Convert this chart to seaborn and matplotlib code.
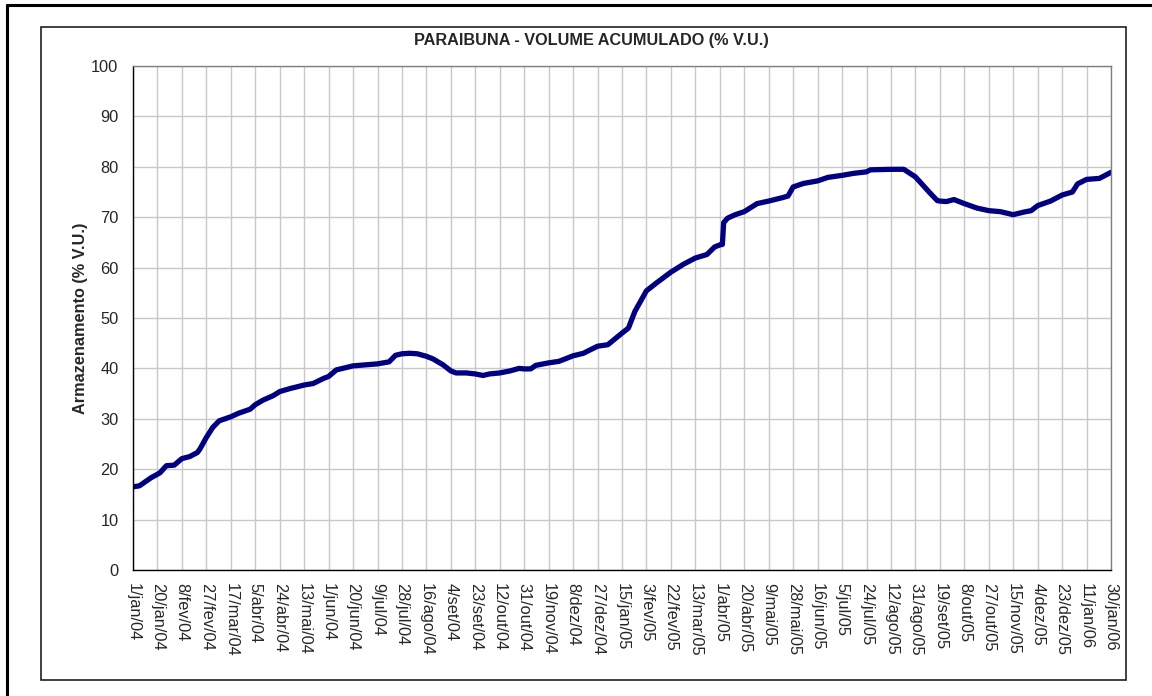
import pandas as pd
import numpy as np
import matplotlib
matplotlib.use('Agg')
import matplotlib.pyplot as plt
from matplotlib.lines import Line2D
from matplotlib.patches import Rectangle
import seaborn as sns

# dados: volume acumulado de Paraibuna (% V.U.)
datas = [
    '2004-01-01', '2004-01-06', '2004-01-15', '2004-01-20', '2004-01-22', '2004-01-27',
    '2004-02-02', '2004-02-08', '2004-02-14', '2004-02-20', '2004-02-22', '2004-02-27',
    '2004-03-03', '2004-03-08', '2004-03-17', '2004-03-23', '2004-04-01', '2004-04-05',
    '2004-04-11', '2004-04-19', '2004-04-24', '2004-05-02', '2004-05-13', '2004-05-20',
    '2004-05-28', '2004-06-01', '2004-06-07', '2004-06-20', '2004-07-09', '2004-07-18',
    '2004-07-23', '2004-07-28', '2004-08-03', '2004-08-09', '2004-08-16', '2004-08-21',
    '2004-08-29', '2004-09-04', '2004-09-08', '2004-09-16', '2004-09-23', '2004-09-29',
    '2004-10-04', '2004-10-12', '2004-10-20', '2004-10-27', '2004-10-31', '2004-11-05',
    '2004-11-09', '2004-11-19', '2004-11-27', '2004-12-08', '2004-12-16', '2004-12-27',
    '2005-01-04', '2005-01-15', '2005-01-20', '2005-01-25', '2005-02-03', '2005-02-11',
    '2005-02-22', '2005-03-04', '2005-03-13', '2005-03-22', '2005-03-28', '2005-04-01',
    '2005-04-03', '2005-04-04', '2005-04-07', '2005-04-13', '2005-04-20', '2005-04-30',
    '2005-05-09', '2005-05-20', '2005-05-24', '2005-05-28', '2005-06-05', '2005-06-16',
    '2005-06-24', '2005-07-05', '2005-07-14', '2005-07-24', '2005-07-27', '2005-08-12',
    '2005-08-22', '2005-08-31', '2005-09-11', '2005-09-17', '2005-09-19', '2005-09-24',
    '2005-09-30', '2005-10-08', '2005-10-18', '2005-10-27', '2005-11-05', '2005-11-15',
    '2005-11-23', '2005-11-29', '2005-12-04', '2005-12-14', '2005-12-23', '2005-12-31',
    '2006-01-04', '2006-01-11', '2006-01-21', '2006-01-30',
]
volume = [
    16.5, 16.7, 18.3, 19.0, 19.3, 20.7,
    20.8, 22.1, 22.5, 23.3, 24.0, 26.3,
    28.3, 29.6, 30.4, 31.1, 31.9, 32.8,
    33.7, 34.6, 35.4, 36.0, 36.7, 37.0,
    38.0, 38.4, 39.7, 40.5, 40.9, 41.3,
    42.6, 42.9, 43.0, 42.9, 42.4, 41.9,
    40.7, 39.5, 39.1, 39.1, 38.9, 38.6,
    38.9, 39.1, 39.5, 40.0, 39.9, 39.9,
    40.6, 41.1, 41.4, 42.5, 43.0, 44.4,
    44.7, 47.0, 48.0, 51.3, 55.4, 57.0,
    59.1, 60.7, 61.9, 62.6, 64.1, 64.5,
    64.6, 68.9, 69.8, 70.5, 71.1, 72.7,
    73.2, 73.9, 74.2, 76.0, 76.7, 77.2,
    77.9, 78.3, 78.7, 79.0, 79.4, 79.5,
    79.5, 78.0, 74.9, 73.3, 73.2, 73.1,
    73.5, 72.7, 71.8, 71.3, 71.1, 70.5,
    71.0, 71.3, 72.3, 73.2, 74.4, 75.0,
    76.6, 77.5, 77.7, 78.9,
]

rotulos_x = [
    '1/jan/04', '20/jan/04', '8/fev/04', '27/fev/04', '17/mar/04', '5/abr/04',
    '24/abr/04', '13/mai/04', '1/jun/04', '20/jun/04', '9/jul/04', '28/jul/04',
    '16/ago/04', '4/set/04', '23/set/04', '12/out/04', '31/out/04', '19/nov/04',
    '8/dez/04', '27/dez/04', '15/jan/05', '3/fev/05', '22/fev/05', '13/mar/05',
    '1/abr/05', '20/abr/05', '9/mai/05', '28/mai/05', '16/jun/05', '5/jul/05',
    '24/jul/05', '12/ago/05', '31/ago/05', '19/set/05', '8/out/05', '27/out/05',
    '15/nov/05', '4/dez/05', '23/dez/05', '11/jan/06', '30/jan/06',
]
ticks_y = [0, 10, 20, 30, 40, 50, 60, 70, 80, 90, 100]

df = pd.DataFrame({'data': pd.to_datetime(datas), 'volume': volume})
pos_x = pd.date_range('2004-01-01', periods=len(rotulos_x), freq='19D')

sns.set_style('white')
plt.rcParams['font.family'] = ['Liberation Sans', 'DejaVu Sans']

fig = plt.figure(figsize=(11.52, 6.96), dpi=100)
ax = fig.add_axes([133/1152, 1-570/696, 978/1152, 504/696])

sns.lineplot(data=df, x='data', y='volume', ax=ax, color='#000080', linewidth=3.8,
             solid_joinstyle='round', solid_capstyle='round')

ax.set_xlim(pos_x[0], pos_x[-1])
ax.set_ylim(0, 100)
ax.set_xticks(pos_x)
ax.set_xticklabels(rotulos_x, rotation=270, fontsize=11.8)
ax.set_yticks(ticks_y)
ax.set_yticklabels([str(t) for t in ticks_y], fontsize=11.8)
ax.tick_params(axis='both', direction='out', length=3.5, width=1, color='black')
ax.tick_params(axis='x', pad=6)
ax.tick_params(axis='y', pad=7)
ax.grid(True, color='#c8c8c8', linewidth=1)
ax.set_axisbelow(True)

for s in ['left', 'bottom']:
    ax.spines[s].set_color('black')
    ax.spines[s].set_linewidth(1)
for s in ['top', 'right']:
    ax.spines[s].set_color('#808080')
    ax.spines[s].set_linewidth(1)
    ax.spines[s].set_visible(True)

ax.set_xlabel('')
ax.set_ylabel('Armazenamento (% V.U.)', fontsize=11.7, fontweight='bold')
ax.yaxis.set_label_coords((88-133)/978, 0.5)

fig.text(591/1152, 1-40/696, 'PARAIBUNA - VOLUME ACUMULADO (% V.U.)',
         ha='center', va='center', fontsize=11.7, fontweight='bold')

# moldura do grafico e bordas externas
fig.patches.append(Rectangle((41/1152, 1-680/696), 1085/1152, 653/696,
                             transform=fig.transFigure, fill=False,
                             edgecolor='#202020', linewidth=1.2))
fig.lines.append(Line2D([7/1152, 1], [1-5/696, 1-5/696], transform=fig.transFigure,
                        color='black', linewidth=2.2))
fig.lines.append(Line2D([7/1152, 7/1152], [0, 1-5/696], transform=fig.transFigure,
                        color='black', linewidth=2.2))

fig.savefig('out.png', dpi=100)
